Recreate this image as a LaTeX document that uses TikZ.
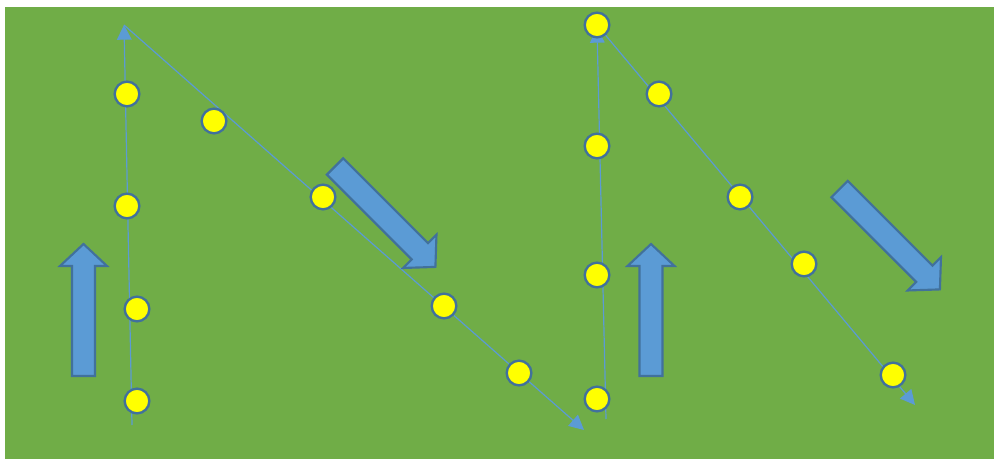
\documentclass[tikz,border=0pt]{standalone}
\usepackage{xcolor}
\usepackage{tikz}
\usetikzlibrary{arrows.meta, calc}
\definecolor{grass}{HTML}{70AD47}
\definecolor{skyblue}{HTML}{5B9BD5}
\definecolor{steel}{HTML}{41719C}
\definecolor{lemon}{HTML}{FFFF00}
\tikzset{
  % Players
  spot/.style={
    circle, minimum size=18.5pt, inner sep=0pt,
    draw=steel, line width=1.8pt, fill=lemon
  },
  % Running lines
  run/.style={-{Triangle[length=11pt, width=11pt]}, line width=0.9pt, color=skyblue},
  runplain/.style={line width=0.9pt, color=skyblue},
  % Block arrows
  blockarrow/.style={draw=steel, line width=1.6pt, fill=skyblue, line join=miter},
  pics/bigarrow/.style={
    code={
      \draw[blockarrow] (-11.5,0) -- (-11.5,-#1+22) -- (-23.5,-#1+22) -- (0,-#1)
        -- (23.5,-#1+22) -- (11.5,-#1+22) -- (11.5,0) -- cycle;
    }
  },
}
\begin{document}
\begin{tikzpicture}[x=0.75pt, y=-0.75pt]

  \useasboundingbox (0,0) rectangle (994,459);
  \fill[grass] (5,7) rectangle (994,459);

  % Line ends
  \coordinate (a0) at (132,425);
  \coordinate (a1) at (124,25);
  \coordinate (b1) at (584,430);
  \coordinate (c0) at (606,419);
  \coordinate (c1) at (597,28);
  \coordinate (d0) at (597,25);
  \coordinate (d1) at (915,405);

  % Lines
  \draw[run] (a0) -- (a1);
  \draw[run] (a1) -- (b1);
  \draw[run] (c0) -- (c1);
  \draw[run] (d0) -- (d1);

  % First run up
  \node[spot] (up1) at (127,94) {};
  \node[spot] (up2) at (127,206) {};
  \node[spot] (up3) at (137,309) {};
  \node[spot] (up4) at (137,401) {};

  % First run down
  \node[spot] (dn1) at (214,121) {};
  \node[spot] (dn2) at (323,197) {};
  \node[spot] (dn3) at (444,306) {};
  \node[spot] (dn4) at (519,373) {};

  % Second run up
  \node[spot] (top) at (597,25) {};
  \node[spot] (vt1) at (597,146) {};
  \node[spot] (vt2) at (597,275) {};
  \node[spot] (vt3) at (597,399) {};

  % Second run down
  \node[spot] (sl1) at (659,94) {};
  \node[spot] (sl2) at (740,197) {};
  \node[spot] (sl3) at (804,264) {};
  \node[spot] (sl4) at (893,375) {};

  % Direction arrows
  \pic at (83.5,376) {bigarrow=132};
  \pic[rotate=-135] at (335,166.5) {bigarrow=142};
  \pic at (651,376) {bigarrow=132};
  \pic[rotate=-135] at (839.5,189) {bigarrow=142};

\end{tikzpicture}
\end{document}
